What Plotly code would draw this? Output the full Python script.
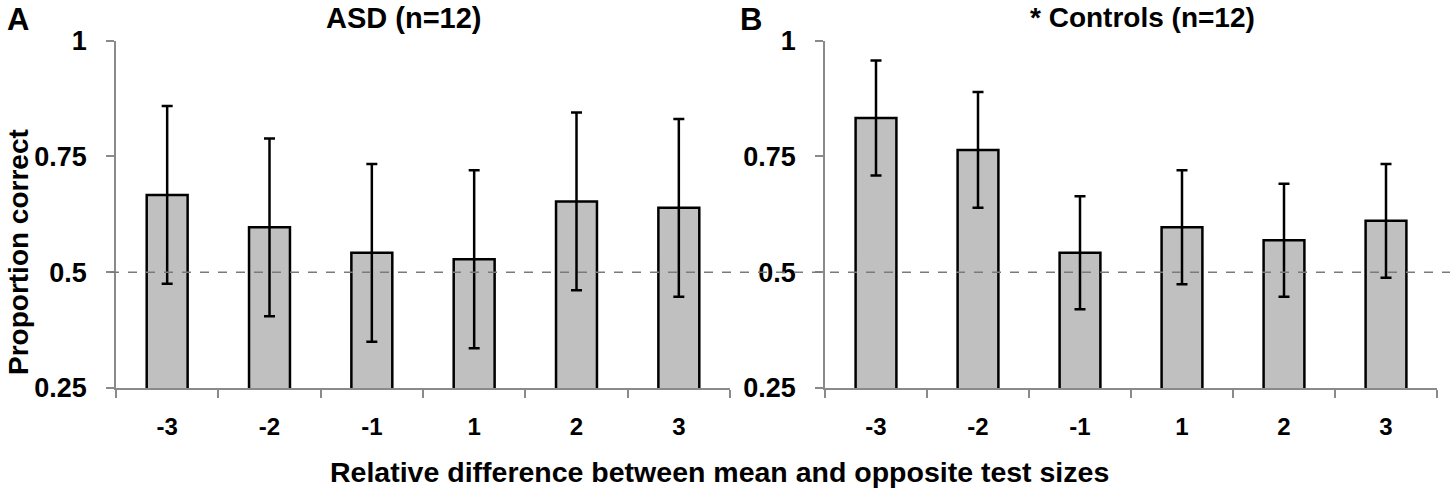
import plotly.graph_objects as go

# ---- data ----
categories = ["-3", "-2", "-1", "1", "2", "3"]
asd_values = [0.667, 0.597, 0.542, 0.528, 0.653, 0.639]
asd_errors = [0.192, 0.192, 0.192, 0.192, 0.192, 0.192]
ctrl_values = [0.833, 0.764, 0.542, 0.597, 0.569, 0.611]
ctrl_errors = [0.124, 0.125, 0.122, 0.123, 0.122, 0.123]
y_ticks = [0.25, 0.5, 0.75, 1]
y_ticktext = ["0.25", "0.5", "0.75", "1"]
chance_level = 0.5
panel_titles = ["ASD (n=12)", "* Controls (n=12)"]
panel_letters = ["A", "B"]
x_title = "Relative difference between mean and opposite test sizes"
y_title = "Proportion correct"

W, H = 1450, 493
FONT = "Liberation Sans, Arial, sans-serif"
AXIS_GRAY = "#8a8a8a"

def px_x(p):
    return p / W

def px_y(p):
    return 1 - p / H

fig = go.Figure()

for i, (vals, errs) in enumerate([(asd_values, asd_errors), (ctrl_values, ctrl_errors)]):
    xa = "x" if i == 0 else "x2"
    ya = "y" if i == 0 else "y2"
    fig.add_trace(go.Bar(
        x=categories, y=vals, xaxis=xa, yaxis=ya,
        marker=dict(color="#c0c0c0", line=dict(color="black", width=2.5)),
        error_y=dict(type="data", array=errs, visible=True,
                     color="black", thickness=2.5, width=5.5),
        showlegend=False, hoverinfo="x+y",
    ))

axis_common_x = dict(
    type="category", range=[-0.5, 5.5], showline=True, linecolor=AXIS_GRAY,
    linewidth=1.5, ticks="outside", tickson="boundaries", ticklen=8,
    tickcolor=AXIS_GRAY, tickwidth=1.5, showgrid=False, zeroline=False,
    tickfont=dict(family=FONT, size=24, color="black", weight="bold"),
    ticklabelstandoff=16, fixedrange=True, automargin=False,
)
axis_common_y = dict(
    range=[0.25, 1], showline=True, linecolor=AXIS_GRAY, linewidth=1.5,
    ticks="outside", ticklen=8, tickcolor=AXIS_GRAY, tickwidth=1.5,
    tickvals=y_ticks, ticktext=y_ticktext, showgrid=False, zeroline=False,
    tickfont=dict(family=FONT, size=27, color="black", weight="bold"),
    ticklabelstandoff=14, fixedrange=True, automargin=False,
)

y_dom = [px_y(388), px_y(40.7)]
fig.update_layout(
    template="none",
    width=W, height=H, autosize=False,
    margin=dict(l=0, r=0, t=0, b=0, pad=0),
    paper_bgcolor="white", plot_bgcolor="rgba(0,0,0,0)",
    bargap=0.6, showlegend=False,
    xaxis=dict(domain=[px_x(116), px_x(730)], anchor="y", **axis_common_x),
    yaxis=dict(domain=y_dom, anchor="x", **axis_common_y),
    xaxis2=dict(domain=[px_x(825), px_x(1437)], anchor="y2", **axis_common_x),
    yaxis2=dict(domain=y_dom, anchor="x2", **axis_common_y),
)

# chance-level dashed reference lines
fig.add_shape(type="line", xref="paper", yref="y", x0=px_x(110), x1=px_x(734),
              y0=chance_level, y1=chance_level,
              line=dict(color="#7a7a7a", width=1.5, dash="dash"), layer="above")
fig.add_shape(type="line", xref="paper", yref="y2", x0=px_x(740), x1=1.0,
              y0=chance_level, y1=chance_level,
              line=dict(color="#7a7a7a", width=1.5, dash="dash"), layer="above")

ann_font = lambda s: dict(family=FONT, size=s, color="black", weight="bold")
annotations = [
    dict(text=panel_letters[0], x=px_x(18), y=1, yanchor="top", font=ann_font(31)),
    dict(text=panel_letters[1], x=px_x(751), y=1, yanchor="top", font=ann_font(31)),
    dict(text=panel_titles[0], x=px_x(404), y=1, yanchor="top", font=ann_font(29)),
    dict(text=panel_titles[1], x=px_x(1142), y=1, yanchor="top", font=ann_font(28)),
    dict(text=x_title, x=px_x(719), y=px_y(472), yanchor="middle", font=ann_font(28.5)),
    dict(text=y_title, x=px_x(18), y=px_y(252), yanchor="middle", font=ann_font(28),
         textangle=-90),
]
for a in annotations:
    fig.add_annotation(xref="paper", yref="paper", showarrow=False,
                       xanchor="center", **a)

# the page body has a default 8px margin; remove it so the figure fills the window
fig.write_html(
    "out.html",
    config={"displayModeBar": False},
    post_script="document.body.style.margin='0';document.body.style.overflow='hidden';",
)
